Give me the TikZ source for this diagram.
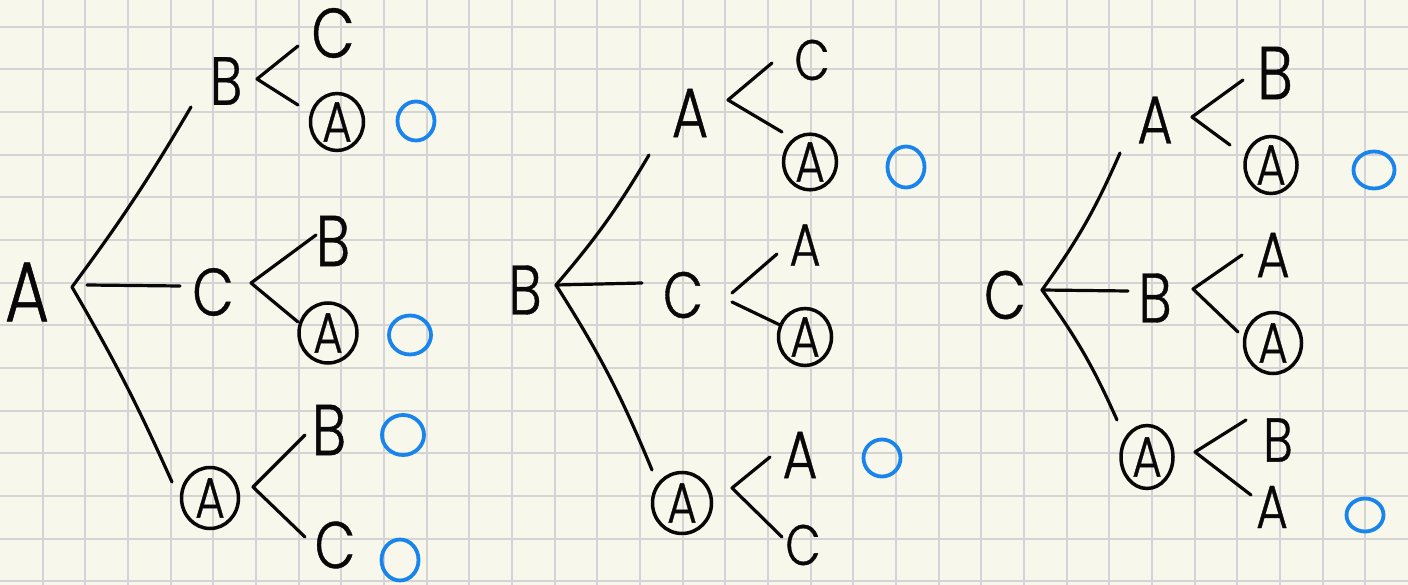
\documentclass[tikz,border=0pt]{standalone}
\usepackage{fontspec}
\newfontfamily\hand[FakeStretch=0.8,FakeBold=0.6]{Poppins Light}
\usetikzlibrary{shapes.geometric}
\definecolor{paper}{RGB}{248,247,235}
\definecolor{gridc}{RGB}{212,212,212}
\definecolor{pen}{RGB}{8,8,8}
\definecolor{mark}{RGB}{24,132,236}
\begin{document}
\begin{tikzpicture}[x=1pt,y=-1pt,
  letter/.style={inner sep=0pt, text=pen, font=\hand\fontsize{#1}{#1}\selectfont},
  letter/.default=68,
  circA/.style 2 args={ellipse, draw=pen, line width=3.5pt, inner sep=0pt,
    minimum width=#1, minimum height=#2, text=pen, font=\hand\fontsize{57}{57}\selectfont},
  okmark/.style 2 args={ellipse, draw=mark, line width=3.8pt, inner sep=0pt,
    minimum width=#1, minimum height=#2},
  branch/.style={draw=pen, line width=3.2pt, line cap=round, line join=round},
  gridline/.style={draw=gridc, line width=2pt}
]
\useasboundingbox (0,0) rectangle (1408,585);
\fill[paper] (0,0) rectangle (1408,585);
\foreach \i in {1,...,32} \draw[gridline] ({42.667*\i},0) -- ({42.667*\i},585);
\foreach \j in {0,...,13} \draw[gridline] (0,{26.7+42.667*\j}) -- (1408,{26.7+42.667*\j});

% ---------------- Tree 1 ----------------
\node[letter=85] (t1r) at (27,292) {A};
\node[letter=68] (t1b) at (226,81) {B};
\node[letter=70] (t1bc) at (333,33) {C};
\node[circA={53}{57}] (t1ba) at (337,122) {A};
\node[okmark={37}{39}] (t1bo) at (416,121) {};
\node[letter=67] (t1c) at (213,292) {C};
\node[letter=72] (t1cb) at (333,241) {B};
\node[circA={58}{60}] (t1ca) at (328,333) {A};
\node[okmark={42}{39}] (t1co) at (410,335) {};
\node[circA={57}{61}] (t1x) at (210,498) {A};
\node[letter=72] (t1xb) at (329,430) {B};
\node[okmark={42}{40}] (t1xbo) at (403,435) {};
\node[letter=66] (t1xc) at (335,545) {C};
\node[okmark={37}{41}] (t1xco) at (400,560) {};

\coordinate (t1o) at (72,287);
\coordinate (t1o2) at (87,285);
\coordinate (t1b-in) at (191,107);
\coordinate (t1c-in) at (180,286);
\coordinate (t1x-in) at (172,482);
\coordinate (t1b-v) at (257,79);
\coordinate (t1bc-in) at (298,46);
\coordinate (t1ba-in) at (298,105);
\coordinate (t1c-v) at (251,283);
\coordinate (t1cb-in) at (316,235);
\coordinate (t1ca-in) at (298,322);
\coordinate (t1x-v) at (253,487);
\coordinate (t1xb-in) at (305,435);
\coordinate (t1xc-in) at (305,537);

\draw[branch] (t1o) to[bend right=3] (t1b-in);
\draw[branch] (t1o2) -- (t1c-in);
\draw[branch] (t1o) to[bend left=3] (t1x-in);
\draw[branch] (t1bc-in) -- (t1b-v) -- (t1ba-in);
\draw[branch] (t1cb-in) -- (t1c-v) -- (t1ca-in);
\draw[branch] (t1xb-in) -- (t1x-v) -- (t1xc-in);

% ---------------- Tree 2 ----------------
\node[letter=70] (t2r) at (525,290) {B};
\node[letter=70] (t2a) at (690,113) {A};
\node[letter=57] (t2ac) at (812,60) {C};
\node[circA={53}{53}] (t2aa) at (810,162) {A};
\node[okmark={37}{41}] (t2ao) at (906,167) {};
\node[letter=65] (t2c) at (683,295) {C};
\node[letter=60] (t2ca) at (805,245) {A};
\node[circA={53}{57}] (t2cx) at (805,337) {A};
\node[circA={59}{61}] (t2x) at (682,503) {A};
\node[letter=67] (t2xa) at (800,455) {A};
\node[okmark={37}{37}] (t2xo) at (882,458) {};
\node[letter=57] (t2xc) at (803,545) {C};

\coordinate (t2o) at (556,285);
\coordinate (t2a-in) at (649,155);
\coordinate (t2c-in) at (642,283);
\coordinate (t2x-in) at (652,470);
\coordinate (t2a-v) at (728,100);
\coordinate (t2ac-in) at (772,63);
\coordinate (t2aa-in) at (782,132);
\coordinate (t2c-v1) at (732,293);
\coordinate (t2c-v2) at (732,302);
\coordinate (t2ca-in) at (777,254);
\coordinate (t2cx-in) at (780,325);
\coordinate (t2x-v) at (732,488);
\coordinate (t2xa-in) at (770,457);
\coordinate (t2xc-in) at (782,537);

\draw[branch] (t2o) to[bend right=5] (t2a-in);
\draw[branch] (t2o) -- (t2c-in);
\draw[branch] (t2o) to[bend left=5] (t2x-in);
\draw[branch] (t2ac-in) -- (t2a-v) -- (t2aa-in);
\draw[branch] (t2c-v1) -- (t2ca-in);
\draw[branch] (t2c-v2) -- (t2cx-in);
\draw[branch] (t2xa-in) -- (t2x-v) -- (t2xc-in);

% ---------------- Tree 3 ----------------
\node[letter=68] (t3r) at (1005,295) {C};
\node[letter=68] (t3a) at (1155,120) {A};
\node[letter=75] (t3ab) at (1275,73) {B};
\node[circA={52}{57}] (t3ax) at (1271,165) {A};
\node[okmark={41}{37}] (t3ao) at (1374,170) {};
\node[letter=70] (t3b) at (1155,298) {B};
\node[letter=64] (t3ba) at (1273,255) {A};
\node[circA={57}{61}] (t3bx) at (1273,343) {A};
\node[circA={52}{63}] (t3x) at (1147,457) {A};
\node[letter=62] (t3xb) at (1278,440) {B};
\node[letter=61] (t3xa) at (1272,507) {A};
\node[okmark={37}{33}] (t3xo) at (1365,515) {};

\coordinate (t3o) at (1042,290);
\coordinate (t3a-in) at (1120,153);
\coordinate (t3b-in) at (1128,291);
\coordinate (t3x-in) at (1117,420);
\coordinate (t3a-v) at (1192,117);
\coordinate (t3ab-in) at (1243,80);
\coordinate (t3ax-in) at (1230,145);
\coordinate (t3b-v) at (1193,289);
\coordinate (t3ba-in) at (1242,255);
\coordinate (t3bx-in) at (1238,332);
\coordinate (t3x-v) at (1195,452);
\coordinate (t3xb-in) at (1246,420);
\coordinate (t3xa-in) at (1251,495);

\draw[branch] (t3o) to[bend right=6] (t3a-in);
\draw[branch] (t3o) -- (t3b-in);
\draw[branch] (t3o) to[bend left=6] (t3x-in);
\draw[branch] (t3ab-in) -- (t3a-v) -- (t3ax-in);
\draw[branch] (t3ba-in) -- (t3b-v) -- (t3bx-in);
\draw[branch] (t3xb-in) -- (t3x-v) -- (t3xa-in);
\end{tikzpicture}
\end{document}
